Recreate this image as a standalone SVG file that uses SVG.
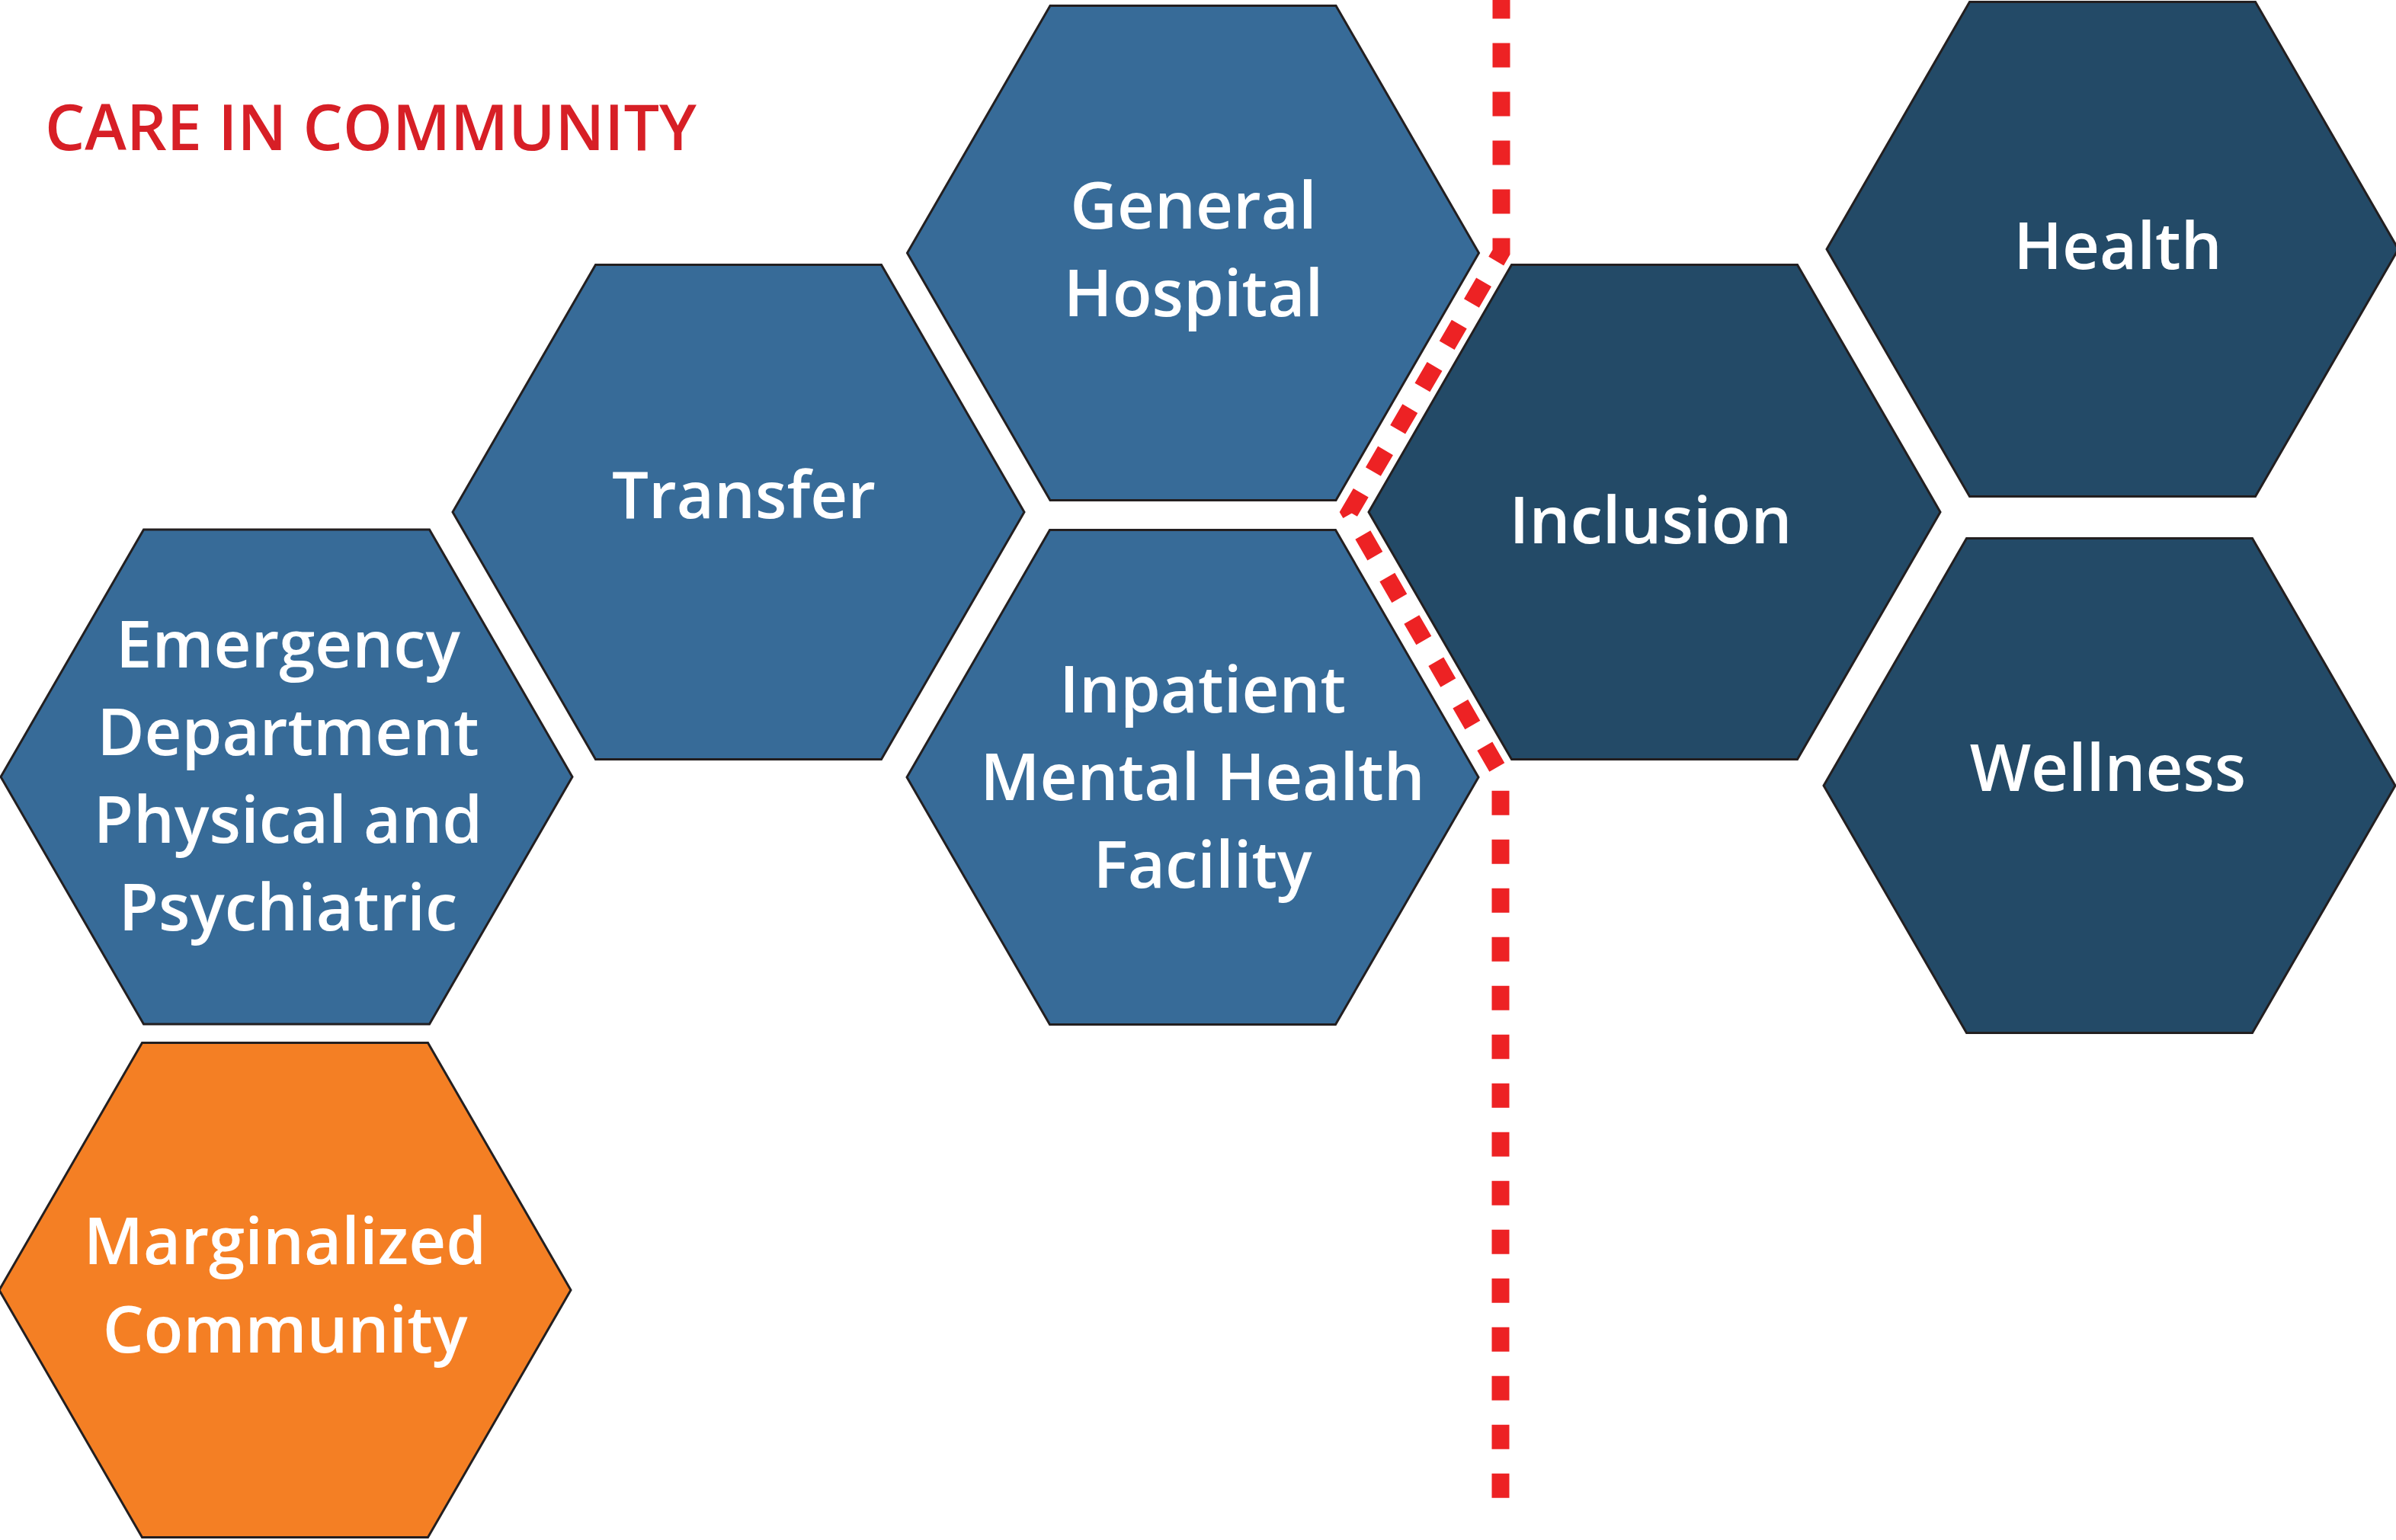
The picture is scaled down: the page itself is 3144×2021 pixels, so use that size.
<svg xmlns="http://www.w3.org/2000/svg" xmlns:xlink="http://www.w3.org/1999/xlink" width="3144" height="2021" viewBox="0 0 3144 2021">
  <style>
    .hex { stroke: #231f20; stroke-width: 3; stroke-linejoin: miter; }
    .mid { fill: #376b98; }
    .dark { fill: #234a67; }
    .orange { fill: #f47f24; }
    .label { font-family: "Open Sans", "Noto Sans", "Liberation Sans", sans-serif; font-weight: 600; font-size: 85px; fill: #ffffff; text-anchor: middle; }
    .title { font-family: "Open Sans", "Noto Sans", "Liberation Sans", sans-serif; font-weight: 600; font-size: 84px; fill: #d71f26; }
    .divider { fill: none; stroke: #ed2224; stroke-width: 23; stroke-dasharray: 32 32; stroke-dashoffset: 7.5; stroke-linejoin: miter; }
  </style>
  <defs>
    <polygon id="hexshape" points="-375,0 -187.5,-324.5 187.5,-324.5 375,0 187.5,324.5 -187.5,324.5"/>
  </defs>
  <rect width="3144" height="2021" fill="#ffffff"/>

  <text class="title" x="59" y="197" textLength="855" lengthAdjust="spacingAndGlyphs">CARE IN COMMUNITY</text>

  <g id="node-emergency">
    <use xlink:href="#hexshape" href="#hexshape" x="376" y="1019.5" class="hex mid"/>
    <text class="label" x="378" y="876">Emergency</text>
    <text class="label" x="378" y="991">Department</text>
    <text class="label" x="378" y="1106">Physical and</text>
    <text class="label" x="378" y="1221">Psychiatric</text>
  </g>

  <g id="node-marginalized">
    <use xlink:href="#hexshape" href="#hexshape" x="374" y="1693" class="hex orange"/>
    <text class="label" x="374" y="1659">Marginalized</text>
    <text class="label" x="374" y="1775">Community</text>
  </g>

  <g id="node-transfer">
    <use xlink:href="#hexshape" href="#hexshape" x="969" y="672" class="hex mid"/>
    <text class="label" x="976" y="680">Transfer</text>
  </g>

  <g id="node-general-hospital">
    <use xlink:href="#hexshape" href="#hexshape" x="1565.5" y="332" class="hex mid"/>
    <text class="label" x="1566" y="300">General</text>
    <text class="label" x="1566" y="415">Hospital</text>
  </g>

  <g id="node-inpatient">
    <use xlink:href="#hexshape" href="#hexshape" x="1565" y="1020" class="hex mid"/>
    <text class="label" x="1578" y="935">Inpatient</text>
    <text class="label" x="1578" y="1050">Mental Health</text>
    <text class="label" x="1578" y="1165">Facility</text>
  </g>

  <g id="node-inclusion">
    <use xlink:href="#hexshape" href="#hexshape" x="2171" y="672" class="hex dark"/>
    <text class="label" x="2166" y="713">Inclusion</text>
  </g>

  <g id="node-health">
    <use xlink:href="#hexshape" href="#hexshape" x="2772" y="327" class="hex dark"/>
    <text class="label" x="2779" y="353">Health</text>
  </g>

  <g id="node-wellness">
    <use xlink:href="#hexshape" href="#hexshape" x="2768" y="1031" class="hex dark"/>
    <text class="label" x="2766" y="1038">Wellness</text>
  </g>

  <g id="connectors">
    <path class="divider" d="M1970,0 V331 L1771,672 L1969,1015 V1972"/>
  </g>
</svg>
